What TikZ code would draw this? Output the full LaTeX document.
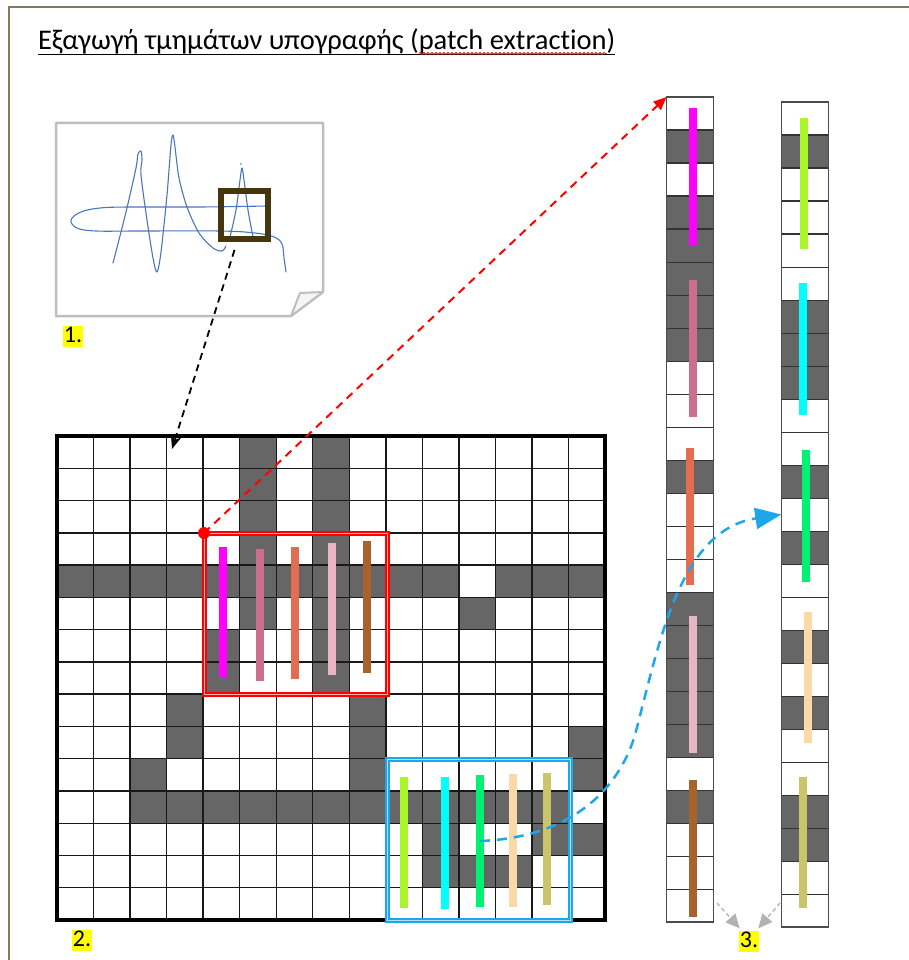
\documentclass[tikz,border=0pt]{standalone}
\usepackage{fontspec}
\setmainfont{Carlito}[Ligatures=NoCommon]
\usetikzlibrary{arrows.meta,decorations.pathmorphing,calc}

\definecolor{frameol}{HTML}{857A5C}
\definecolor{darkcell}{HTML}{666666}
\definecolor{roibrown}{HTML}{45360F}
\definecolor{sigblue}{HTML}{4A76BE}
\definecolor{papergray}{HTML}{BEBEBE}
\definecolor{winblue}{HTML}{1EA6EC}
\definecolor{hl}{HTML}{FFFF00}
\definecolor{bMagenta}{HTML}{FF00FF}
\definecolor{bMauve}{HTML}{CC6F8F}
\definecolor{bSalmon}{HTML}{E26D50}
\definecolor{bPink}{HTML}{E7B6C2}
\definecolor{bBrown}{HTML}{A8622E}
\definecolor{bLime}{HTML}{ABF52B}
\definecolor{bCyan}{HTML}{00FFFF}
\definecolor{bGreen}{HTML}{00F272}
\definecolor{bPeach}{HTML}{F9DAA6}
\definecolor{bOlive}{HTML}{CBC46B}

\newcommand\mytitlefont{\fontsize{28.5}{32}\selectfont}
\def\gx{36.533}
\def\gy{32.267}
\def\ch{33.02}

\tikzset{
  cellline/.style={draw=black!90, line width=1.4pt},
  stripebar/.style={line width=7.5pt},
  numtag/.style={fill=hl, inner xsep=1pt, inner ysep=0pt, text height=17pt, text depth=4pt,
    font=\fontsize{24}{28}\selectfont},
  patchwin/.style={double distance=1pt, line width=2pt, minimum width=183pt,
    minimum height=161pt, inner sep=0pt, outer sep=0pt},
  stripcol/.style={draw=black!70, line width=1.5pt, minimum width=47pt, minimum height=825pt,
    inner sep=0pt, outer sep=0pt},
  colline/.style={draw=black!80, line width=1.2pt},
  sig/.style={sigblue, line width=1.1pt, line cap=round, line join=round},
  ttl/.style={anchor=base west, inner sep=0pt, outer sep=0pt, font=\mytitlefont},
}

\begin{document}
\begin{tikzpicture}[x=1pt,y=-1pt]
\useasboundingbox (0,0) rectangle (909,960);

% page frame
\draw[frameol, line width=2pt] (9,960) -- (9,7) -- (909,7);

% title
\node[ttl] (t1) at (38,50) {Εξαγωγή τμημάτων υπογραφής (};
\node[ttl] (t2) at (t1.base east) {patch extraction};
\node[ttl] (t3) at (t2.base east) {)};
\draw[line width=1.8pt] ($(t1.base west)+(0,4.5)$) -- ($(t3.base east)+(0,4.5)$);
\draw[red, line width=0.8pt, decorate, decoration={snake, amplitude=1pt, segment length=4pt}]
  ($(t2.base west)+(0,3.5)$) -- ($(t2.base east)+(0,3.5)$);

% signature sheet with folded corner
\draw[papergray, line width=2.5pt, fill=white, line join=round]
  (56,123) -- (323,123) -- (323,292) -- (291,316) -- (56,316) -- cycle;
\draw[papergray, line width=2pt, fill=gray!8, line join=round]
  (323,292) -- (300,293) -- (291,316) -- cycle;

% signature strokes
\draw[sig] plot[smooth, tension=0.6] coordinates {(267,206) (200,207) (130,207) (100,208) (81,212)
  (71,220) (77,228) (96,231) (140,231) (220,231) (255,233) (274,237) (282,244) (284,258) (286,272)};
\draw[sig] plot[smooth, tension=0.5] coordinates {(113,263) (126,212) (136,168) (138,154) (141,151)
  (142,160) (141,175) (147,220) (153,258) (157,272) (161,252) (167,195) (171,145) (173,135)
  (175,147) (179,178) (187,207) (199,233) (213,248) (222,251) (226,246)};
\draw[sig] plot[smooth, tension=0.5] coordinates {(230,237) (236,210) (240,180) (242,168)
  (244,180) (248,210) (253,237)};
\fill[sigblue] (241,164) circle (0.8);

% region of interest on the signature
\node[draw=roibrown, line width=6pt, minimum width=47pt, minimum height=48pt,
  inner sep=0pt, outer sep=0pt] (roi) at (244.5,215) {};

\node[numtag] (lab1) at (73,336) {1.};

% binary pixel grid
\foreach \c/\r in {5/0,5/1,5/2,5/3,5/5,7/0,7/1,7/2,7/3,7/5,7/6,7/7,11/5,4/6,4/7,3/8,3/9,
    8/8,8/9,8/10,2/10,14/9,14/10,10/12,13/12,14/12,10/13,11/13,12/13}
  \fill[darkcell] ({57+\c*\gx},{436+\r*\gy}) rectangle ++(\gx,\gy);
\foreach \c in {0,...,10,12,13,14}
  \fill[darkcell] ({57+\c*\gx},{436+4*\gy}) rectangle ++(\gx,\gy);
\foreach \c in {2,...,13}
  \fill[darkcell] ({57+\c*\gx},{436+11*\gy}) rectangle ++(\gx,\gy);
\foreach \k in {1,...,14} {
  \draw[cellline] ({57+\k*\gx},436) -- ({57+\k*\gx},920);
  \draw[cellline] (57,{436+\k*\gy}) -- (605,{436+\k*\gy});
}
\node[draw, line width=4.5pt, minimum width=548pt, minimum height=484pt,
  inner sep=0pt, outer sep=0pt] (grid) at (331,678) {};
\coordinate (gin) at (172,449);

\node[numtag] (lab2) at (82,940) {2.};

% patch windows
\node[patchwin, draw=red, double=red!30] (winA) at (295.5,613.5) {};
\node[patchwin, draw=winblue, double=winblue!35] (winB) at (478.5,839.5) {};

% vertical strips inside the windows
\draw[stripebar, bMagenta] (223,547) -- (223,678);
\draw[stripebar, bMauve]   (260,549) -- (260,681);
\draw[stripebar, bSalmon]  (295,547) -- (295,679);
\draw[stripebar, bPink]    (332,543) -- (332,675);
\draw[stripebar, bBrown]   (367,541) -- (367,673);

\draw[stripebar, bLime]  (404,777) -- (404,908);
\draw[stripebar, bCyan]  (445,777) -- (445,909);
\draw[stripebar, bGreen] (480,775) -- (480,907);
\draw[stripebar, bPeach] (513,774) -- (513,907);
\draw[stripebar, bOlive] (547,773) -- (547,905);

% first column of unrolled strips
\foreach \v [count=\k from 0] in {0,1,0,1,1, 1,1,1,0,0, 0,1,0,0,0, 1,1,1,1,1, 0,1,0,0,0}
  {\ifnum\v=1 \fill[darkcell] (666.5,{97+\k*\ch}) rectangle ++(47,\ch); \fi}
\foreach \k in {1,...,24}
  \draw[colline] (666.5,{97+\k*\ch}) -- ++(47,0);
\node[stripcol] (colA) at (690,509.5) {};

% second column of unrolled strips
\foreach \v [count=\k from 0] in {0,1,0,0,0, 0,1,1,1,0, 0,1,0,1,0, 0,1,0,1,0, 0,1,1,0,0}
  {\ifnum\v=1 \fill[darkcell] (781,{102+\k*\ch}) rectangle ++(47.5,\ch); \fi}
\foreach \k in {1,...,24}
  \draw[colline] (781,{102+\k*\ch}) -- ++(47.5,0);
\node[stripcol] (colB) at (804.75,514.5) {};

\draw[stripebar, bMagenta] (693,108) -- (693,245);
\draw[stripebar, bMauve]   (693,280) -- (693,417);
\draw[stripebar, bSalmon]  (690,448) -- (690,585);
\draw[stripebar, bPink]    (693,616) -- (693,753);
\draw[stripebar, bBrown]   (693,780) -- (693,917);

\draw[stripebar, bLime]  (804,118) -- (804,249);
\draw[stripebar, bCyan]  (803,283) -- (803,415);
\draw[stripebar, bGreen] (806,450) -- (806,582);
\draw[stripebar, bPeach] (808,612) -- (808,743);
\draw[stripebar, bOlive] (803,777) -- (803,908);

\node[numtag] (lab3) at (749,941) {3.};

% connectors
\draw[line width=1.8pt, dash pattern=on 7pt off 5pt, -{Stealth[length=14pt,width=11pt]}]
  ($(roi.south)+(-10,11)$) -- (gin);

\fill[red] (winA.north west) circle (6);
\draw[red, line width=2pt, dash pattern=on 8pt off 6pt, -{Triangle[length=13pt,width=11pt]}]
  (winA.north west) -- (colA.north west);

\coordinate (bstart) at (480,841);
\draw[winblue, line width=2.5pt, dash pattern=on 10pt off 7pt, -{Triangle[length=26pt,width=21pt]}]
  (bstart) .. controls (560,838) and (615,800) .. (635,735)
  .. controls (660,640) and (680,530) .. (colB.west);

\coordinate (ga) at (717,903);
\coordinate (gb) at (780,903);
\draw[gray!60, line width=1.3pt, dash pattern=on 4pt off 3pt, -{Triangle[length=14pt,width=13pt]}]
  (ga) -- ($(lab3.north west)+(1,-2)$);
\draw[gray!60, line width=1.3pt, dash pattern=on 4pt off 3pt, -{Triangle[length=14pt,width=13pt]}]
  (gb) -- ($(lab3.north east)+(-1,-2)$);
\end{tikzpicture}
\end{document}
